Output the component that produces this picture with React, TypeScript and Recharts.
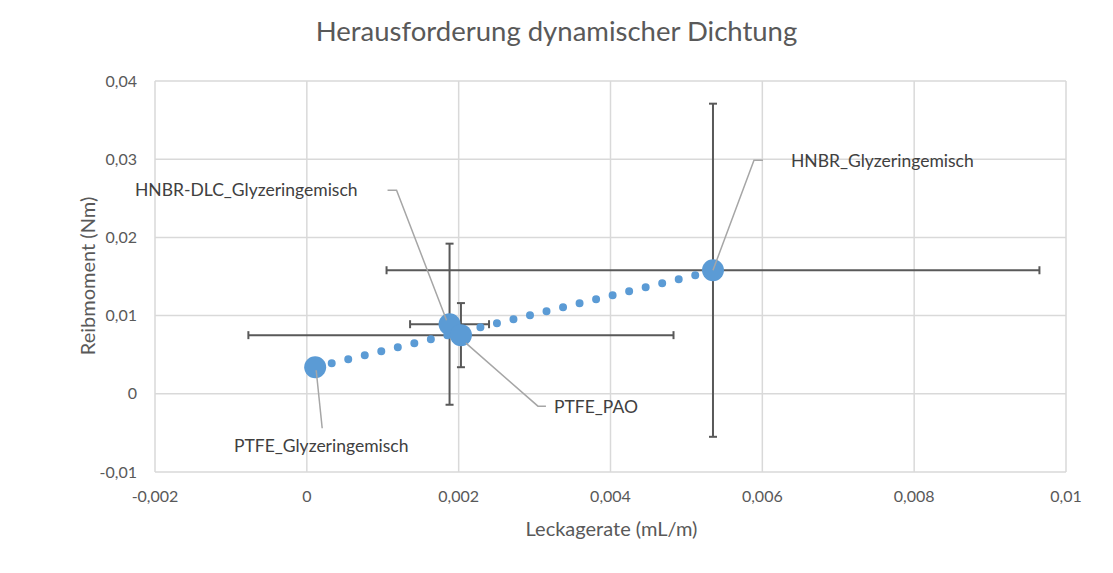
import { ScatterChart, Scatter, XAxis, YAxis, CartesianGrid, ErrorBar } from 'recharts';

const sealNames = ['PTFE_Glyzeringemisch', 'HNBR-DLC_Glyzeringemisch', 'PTFE_PAO', 'HNBR_Glyzeringemisch'];
const leakage = [0.00011, 0.00188, 0.00203, 0.00535];
const friction = [0.0034, 0.0089, 0.0075, 0.0158];
const leakageErr = [0, 0.00052, 0.0028, 0.0043];
const frictionErr = [0, 0.0103, 0.0041, 0.0213];

// linear trendline endpoints
const trendLeakage = [0.00011, 0.00535];
const trendFriction = [0.0034, 0.0157];

const xTicks = [-0.002, 0, 0.002, 0.004, 0.006, 0.008, 0.01];
const yTicks = [-0.01, 0, 0.01, 0.02, 0.03, 0.04];

const points = sealNames.map((name, i) => ({
  name,
  x: leakage[i],
  y: friction[i],
  ex: leakageErr[i],
  ey: frictionErr[i],
}));
const trend = trendLeakage.map((x, i) => ({ x, y: trendFriction[i] }));

// leader-line layout, pixel offsets from each marker centre
const labelLayout: Record<string, { path: number[][]; tx: number; ty: number; anchor: 'start' | 'middle' | 'end' }> = {
  PTFE_Glyzeringemisch: { path: [[1, 3], [7, 61]], tx: 6, ty: 79, anchor: 'middle' },
  'HNBR-DLC_Glyzeringemisch': { path: [[-3, -4], [-53, -134], [-62, -134]], tx: -92, ty: -134, anchor: 'end' },
  PTFE_PAO: { path: [[5, 8], [77, 71], [85, 71]], tx: 93, ty: 72, anchor: 'start' },
  HNBR_Glyzeringemisch: { path: [[0, 0], [41, -110], [50, -110]], tx: 78, ty: -109, anchor: 'start' },
};

const FONT = 'Lato, "Open Sans", sans-serif';
const fmt = (v: number) => String(v).replace('.', ',');

const Marker = (props: any) => <circle cx={props.cx} cy={props.cy} r={11} fill="#5B9BD5" />;
const Empty = () => <g />;

const LeaderLabel = (props: any) => {
  const { cx, cy, payload } = props;
  const l = labelLayout[payload.name];
  if (!l) return <g />;
  const d = l.path.map(([dx, dy], k) => `${k ? 'L' : 'M'}${cx + dx},${cy + dy}`).join(' ');
  return (
    <g>
      <path d={d} fill="none" stroke="#A6A6A6" strokeWidth={1.5} />
      <text x={cx + l.tx} y={cy + l.ty} dy="0.35em" textAnchor={l.anchor} fontSize={17.5} fill="#404040" fontFamily={FONT}>
        {payload.name}
      </text>
    </g>
  );
};

export default function App() {
  return (
    <div style={{ position: 'absolute', left: 0, top: 0, width: 1113, height: 573, background: '#fff', fontFamily: FONT }}>
      <div style={{ position: 'absolute', left: 0, width: 1113, top: 14, textAlign: 'center', fontSize: 27.5, color: '#595959' }}>
        Herausforderung dynamischer Dichtung
      </div>
      <div style={{ position: 'absolute', left: 0, width: 1113, top: 516, paddingLeft: 110, boxSizing: 'border-box', textAlign: 'center', fontSize: 20, color: '#595959' }}>
        Leckagerate (mL/m)
      </div>
      <div
        style={{
          position: 'absolute',
          left: 87,
          top: 276,
          transform: 'translate(-50%, -50%) rotate(-90deg)',
          whiteSpace: 'nowrap',
          fontSize: 20,
          color: '#595959',
        }}
      >
        Reibmoment (Nm)
      </div>
      <ScatterChart width={1113} height={573} margin={{ top: 81, right: 47, bottom: 71, left: 95 }}>
        <CartesianGrid stroke="#D9D9D9" strokeWidth={1.5} />
        <XAxis
          type="number"
          dataKey="x"
          domain={[-0.002, 0.01]}
          ticks={xTicks}
          tickFormatter={fmt}
          axisLine={false}
          tickLine={false}
          tickMargin={13}
          height={30}
          tick={{ fill: '#595959', fontSize: 16, fontFamily: FONT }}
        />
        <YAxis
          type="number"
          dataKey="y"
          domain={[-0.01, 0.04]}
          ticks={yTicks}
          tickFormatter={fmt}
          axisLine={false}
          tickLine={false}
          tickMargin={12}
          width={60}
          tick={{ fill: '#595959', fontSize: 16, fontFamily: FONT }}
        />
        <Scatter
          data={trend}
          shape={Empty}
          line={{ stroke: '#5B9BD5', strokeWidth: 8, strokeDasharray: '0 17', strokeLinecap: 'round' }}
          isAnimationActive={false}
        />
        <Scatter data={points} shape={Empty} isAnimationActive={false}>
          <ErrorBar dataKey="ex" direction="x" width={4} stroke="#595959" strokeWidth={2} />
          <ErrorBar dataKey="ey" direction="y" width={4} stroke="#595959" strokeWidth={2} />
        </Scatter>
        <Scatter data={points} shape={Marker} isAnimationActive={false} />
        <Scatter data={points} shape={LeaderLabel} isAnimationActive={false} />
      </ScatterChart>
    </div>
  );
}
